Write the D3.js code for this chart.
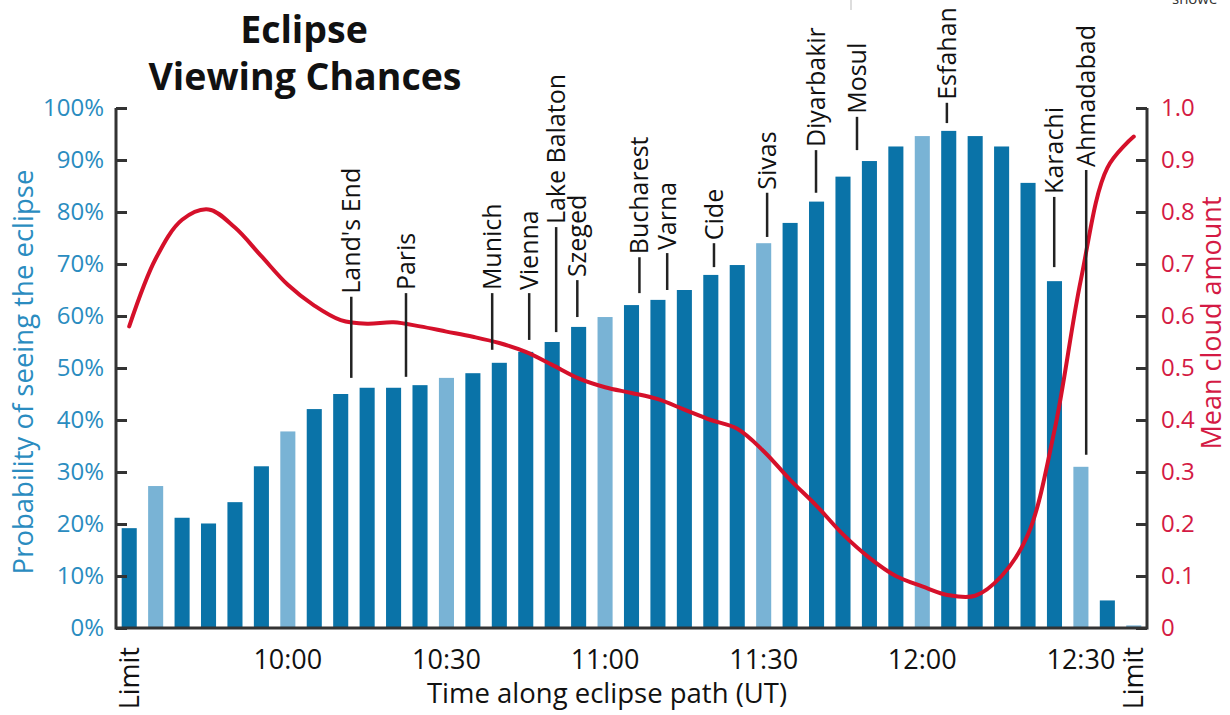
<!DOCTYPE html>
<html>
<head>
<meta charset="utf-8">
<script src="https://cdn.jsdelivr.net/npm/d3@7/dist/d3.min.js"></script>
<style>
  body { margin: 0; background: #fff; }
  text { font-family: "Open Sans", sans-serif; }
</style>
</head>
<body>
<div id="chart"></div>
<script>
// one bar every five minutes along the path, from limit to limit
var slots = d3.range(39);

// probability of seeing the eclipse (%)
var probability = [19.2, 27.3, 21.2, 20.1, 24.2, 31.1, 37.8, 42.1, 45.0, 46.2,
                   46.2, 46.7, 48.1, 49.0, 51.0, 53.1, 55.0, 57.9, 59.8, 62.1,
                   63.1, 65.0, 67.9, 69.8, 74.0, 77.9, 82.0, 86.8, 89.8, 92.6,
                   94.6, 95.6, 94.6, 92.6, 85.6, 66.7, 31.0, 5.3, 0.5];

// mean cloud amount (0-1)
var cloud = [0.58, 0.71, 0.785, 0.805, 0.77, 0.715, 0.66, 0.62, 0.592, 0.585,
             0.588, 0.58, 0.57, 0.56, 0.548, 0.531, 0.506, 0.48, 0.463, 0.452,
             0.44, 0.42, 0.40, 0.383, 0.34, 0.285, 0.235, 0.18, 0.135, 0.10,
             0.08, 0.063, 0.062, 0.10, 0.18, 0.38, 0.67, 0.885, 0.945];

// bars drawn in the lighter shade
var lightBars = [1, 6, 12, 18, 24, 30, 36, 38];

// time axis labels
var timeTicks = [0, 6, 12, 18, 24, 30, 36, 38];
var timeLabels = ["Limit", "10:00", "10:30", "11:00", "11:30", "12:00", "12:30", "Limit"];

var probTicks = d3.range(0, 101, 10);
var cloudTicks = d3.range(11).map(function(d) { return d / 10; });

// places along the path (position in bar slots, leader from/to in %)
var cities = ["Land's End", "Paris", "Munich", "Vienna", "Lake Balaton", "Szeged",
              "Bucharest", "Varna", "Cide", "Sivas", "Diyarbakir", "Mosul",
              "Esfahan", "Karachi", "Ahmadabad"];
var cityAt = [8.4, 10.47, 13.73, 15.13, 16.15, 16.95, 19.3, 20.35, 22.12,
              24.13, 25.98, 27.53, 30.93, 34.99, 36.2];
var leaderTop = [63.7, 64.4, 64.4, 64.4, 77.1, 66.9, 71.3, 72.1, 74.0,
                 83.7, 91.9, 98.3, 101.0, 82.9, 88.1];
var leaderEnd = [48.1, 48.3, 53.5, 55.4, 56.9, 59.8, 64.4, 65.0, 69.4,
                 75.2, 83.7, 91.9, 97.1, 69.4, 33.3];

var width = 1230;
var height = 715;
var plot = {left: 116, right: 1147, top: 108, bottom: 628};

var darkBlue = "#0a73a8";
var lightBlue = "#79b3d5";
var axisBlue = "#2a8cc0";
var red = "#d5102a";
var axisRed = "#d41a44";
var ink = "#333";

var svg = d3.select("#chart")
  .append("svg")
  .attr("width", width)
  .attr("height", height);

var x = d3.scaleBand()
  .domain(slots)
  .range([plot.left, plot.right])
  .paddingInner(0.43)
  .paddingOuter(0.215);

var slotX = d3.scaleLinear()
  .domain([0, slots.length - 1])
  .range([x(0) + x.bandwidth() / 2, x(slots.length - 1) + x.bandwidth() / 2]);

var y = d3.scaleLinear().domain([0, 100]).range([plot.bottom, plot.top]);
var yc = d3.scaleLinear().domain([0, 1]).range([plot.bottom, plot.top]);

// title
svg.append("text")
  .text("Eclipse")
  .attr("x", 304).attr("y", 43)
  .attr("text-anchor", "middle")
  .attr("font-size", 37.5).attr("font-weight", "bold")
  .attr("fill", "#111");
svg.append("text")
  .text("Viewing Chances")
  .attr("x", 305).attr("y", 90)
  .attr("text-anchor", "middle")
  .attr("font-size", 37.5).attr("font-weight", "bold")
  .attr("fill", "#111");

// bars
svg.selectAll("rect.bar")
  .data(slots)
  .enter()
  .append("rect")
  .attr("class", "bar")
  .attr("x", function(d) { return x(d); })
  .attr("width", x.bandwidth())
  .attr("y", function(d) { return y(probability[d]); })
  .attr("height", function(d) { return y(0) - y(probability[d]); })
  .attr("fill", function(d) { return lightBars.indexOf(d) >= 0 ? lightBlue : darkBlue; });

// cloud line
var line = d3.line()
  .x(function(d) { return slotX(d); })
  .y(function(d) { return yc(cloud[d]); })
  .curve(d3.curveCatmullRom.alpha(0.5));

svg.append("path")
  .datum(slots)
  .attr("d", line)
  .attr("fill", "none")
  .attr("stroke", red)
  .attr("stroke-width", 4)
  .attr("stroke-linecap", "round");

// city labels with leaders
var city = svg.selectAll("g.city")
  .data(cities)
  .enter()
  .append("g")
  .attr("class", "city");

city.append("line")
  .attr("x1", function(d, i) { return slotX(cityAt[i]); })
  .attr("x2", function(d, i) { return slotX(cityAt[i]); })
  .attr("y1", function(d, i) { return y(leaderTop[i]); })
  .attr("y2", function(d, i) { return y(leaderEnd[i]); })
  .attr("stroke", "#222")
  .attr("stroke-width", 2.5);

city.append("text")
  .text(function(d) { return d; })
  .attr("transform", function(d, i) {
    return "translate(" + slotX(cityAt[i]) + "," + (y(leaderTop[i]) - 3) + ") rotate(-90)";
  })
  .attr("dy", "0.35em")
  .attr("font-size", 25)
  .attr("fill", "#111");

// left axis
var leftAxis = svg.append("g")
  .attr("transform", "translate(" + plot.left + ",0)")
  .call(d3.axisLeft(y)
    .tickValues(probTicks)
    .tickFormat(function(d) { return d + "%"; })
    .tickSize(-11)
    .tickPadding(12));
leftAxis.select(".domain").remove();
leftAxis.selectAll(".tick line").attr("stroke", ink).attr("stroke-width", 3);
leftAxis.selectAll(".tick text")
  .attr("fill", axisBlue)
  .attr("font-size", 24)
  .attr("font-family", "Open Sans");

// right axis
var rightAxis = svg.append("g")
  .attr("transform", "translate(" + plot.right + ",0)")
  .call(d3.axisRight(yc)
    .tickValues(cloudTicks)
    .tickFormat(function(d) { return d === 0 ? "0" : d3.format(".1f")(d); })
    .tickSize(-11)
    .tickPadding(14));
rightAxis.select(".domain").remove();
rightAxis.selectAll(".tick line").attr("stroke", ink).attr("stroke-width", 3);
rightAxis.selectAll(".tick text")
  .attr("fill", axisRed)
  .attr("font-size", 24)
  .attr("font-family", "Open Sans");

// axis frame lines
svg.append("path")
  .attr("d", "M" + plot.left + "," + plot.top + "V" + plot.bottom +
             "H" + plot.right + "V" + plot.top)
  .attr("fill", "none")
  .attr("stroke", ink)
  .attr("stroke-width", 3);

// time labels
timeTicks.forEach(function(t, i) {
  var cx = slotX(t);
  if (timeLabels[i] === "Limit") {
    svg.append("text")
      .text(timeLabels[i])
      .attr("transform", "translate(" + cx + ",647) rotate(-90)")
      .attr("dy", "0.35em")
      .attr("text-anchor", "end")
      .attr("font-size", 27)
      .attr("fill", "#111");
  } else {
    svg.append("text")
      .text(timeLabels[i])
      .attr("x", cx).attr("y", 669)
      .attr("text-anchor", "middle")
      .attr("font-size", 27)
      .attr("fill", "#111");
  }
});

// axis titles
svg.append("text")
  .text("Time along eclipse path (UT)")
  .attr("x", 607).attr("y", 703)
  .attr("text-anchor", "middle")
  .attr("font-size", 27.5)
  .attr("fill", "#111");

svg.append("text")
  .text("Probability of seeing the eclipse")
  .attr("transform", "translate(33,372) rotate(-90)")
  .attr("text-anchor", "middle")
  .attr("font-size", 27.5)
  .attr("fill", axisBlue);

svg.append("text")
  .text("Mean cloud amount")
  .attr("transform", "translate(1221,323) rotate(-90)")
  .attr("text-anchor", "middle")
  .attr("font-size", 27)
  .attr("fill", axisRed);

// bits of the page edge caught in the picture
svg.append("line")
  .attr("x1", 851).attr("x2", 851).attr("y1", 0).attr("y2", 10)
  .attr("stroke", "#bbb").attr("stroke-width", 1);
svg.append("text")
  .text("showe")
  .attr("x", 1172).attr("y", 4)
  .attr("font-size", 15)
  .attr("fill", "#333");
</script>
</body>
</html>
